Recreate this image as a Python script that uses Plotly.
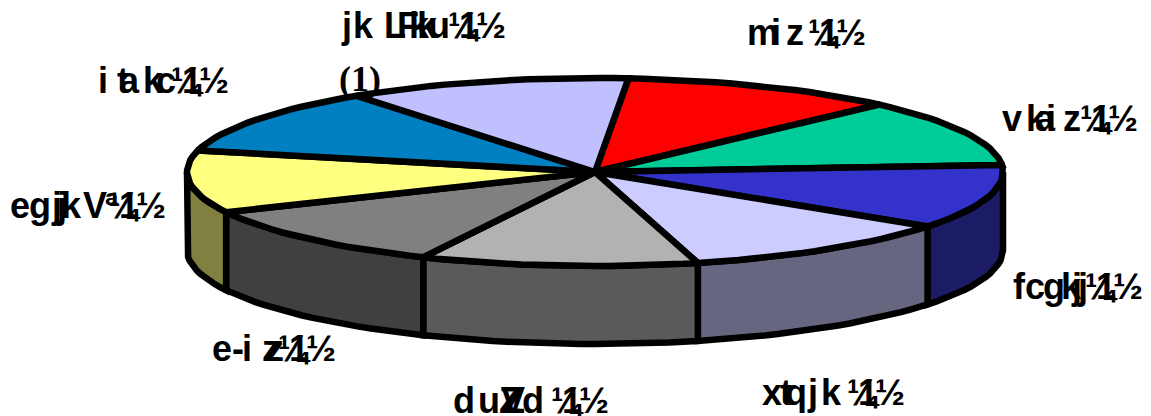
import math
import plotly.graph_objects as go

# slice data (degrees of the pie, clockwise, first slice begins at start_angle)
slice_names = ["red", "green", "blue", "lavender", "silver", "grey", "yellow", "teal", "periwinkle"]
slice_values = [39.5, 41.5, 39.7, 40.0, 39.5, 39.8, 38.6, 40.9, 40.5]
top_colors = ["#FF0000", "#00CC99", "#3333CC", "#CCCCFF", "#B2B2B2", "#808080", "#FFFF80", "#0080C0", "#C0C0FF"]
side_colors = ["#800000", "#006650", "#1C1C66", "#666680", "#5A5A5A", "#404040", "#808040", "#004060", "#606080"]

start_angle = 4.7
cx, cy, rx, ry, depth = 595, 172, 408, 94, 78
EDGE = "#000000"
EDGE_W = 6.5


def rim(deg, drop=0):
    t = math.radians(deg)
    return cx + rx * math.sin(t), cy - ry * math.cos(t) + drop


def arc(a, b, drop=0, step=2.0):
    n = max(2, int(abs(b - a) / step) + 1)
    return [rim(a + (b - a) * i / (n - 1), drop) for i in range(n)]


fig = go.Figure()


def poly(points, fill):
    xs = [p[0] for p in points]
    ys = [p[1] for p in points]
    fig.add_trace(go.Scatter(x=xs + xs[:1], y=ys + ys[:1], mode="lines", fill="toself",
                             fillcolor=fill, line=dict(color=EDGE, width=EDGE_W),
                             hoverinfo="skip", showlegend=False))


# walls of the visible front half
a = start_angle
walls = []
tops = []
for v, tc, sc in zip(slice_values, top_colors, side_colors):
    b = a + v
    lo, hi = max(a, 90), min(b, 270)
    if lo < hi:
        walls.append((lo, hi, sc))
    tops.append((a, b, tc))
    a = b
for lo, hi, sc in walls:
    poly(arc(lo, hi) + arc(hi, lo, depth), sc)
for a, b, tc in tops:
    poly([(cx, cy)] + arc(a, b), tc)

BOLD = "Liberation Sans, Arial, sans-serif"
SERIF = "Liberation Serif, Times New Roman, serif"
SIZE = 36

# garbled labels: (glyphs with their left x, centre y, right end of the fraction tail)
labels = [
    ([("j", 340), ("k", 352), ("L", 383), ("F", 396), ("k", 408), ("k", 416), ("u", 427)], 25, 505),
    ([("m", 746), ("i", 770), ("z", 785)], 32, 865),
    ([("v", 1001), ("k", 1025), ("a", 1034), ("i", 1045), ("z", 1062)], 118, 1137),
    ([("i", 97), ("t", 116), ("a", 118), ("k", 142), ("c", 155)], 80, 228),
    ([("e", 9), ("g", 28), ("j", 50), ("j", 55), ("k", 60), ("V", 82), ("ª", 104)], 205, 165),
    ([("f", 1012), ("c", 1024), ("g", 1042), ("k", 1060), ("j", 1070), ("j", 1076)], 286, 1142),
    ([("e", 211), ("-", 231), ("i", 241), ("z", 261), ("z", 265)], 348, 335),
    ([("d", 452), ("u", 477), ("Z", 498), ("V", 500), ("Z", 502), ("d", 521)], 400, 608),
    ([("x", 761), ("t", 779), ("q", 784), ("j", 806), ("k", 820)], 392, 904),
]
for glyphs, y, end in labels:
    runs = glyphs + [("¼", end - 58), ("1", end - 47), ("½", end - 30)]
    for txt, x in runs:
        fig.add_annotation(x=x, y=y, text=txt, showarrow=False, xanchor="left", yanchor="middle",
                           borderpad=0, font=dict(family=BOLD, size=SIZE, color="black", weight="bold"))
fig.add_annotation(x=338, y=79, text="(1)", showarrow=False, xanchor="left", yanchor="middle",
                   borderpad=0, font=dict(family=SERIF, size=SIZE, color="black", weight="bold"))

fig.update_layout(width=1143, height=408, autosize=False,
                  margin=dict(l=0, r=0, t=0, b=0), paper_bgcolor="white", plot_bgcolor="white",
                  xaxis=dict(range=[8, 1151], visible=False, fixedrange=True),
                  yaxis=dict(range=[416, 8], visible=False, fixedrange=True),
                  showlegend=False)
fig.write_html("out.html", config={"displayModeBar": False})
